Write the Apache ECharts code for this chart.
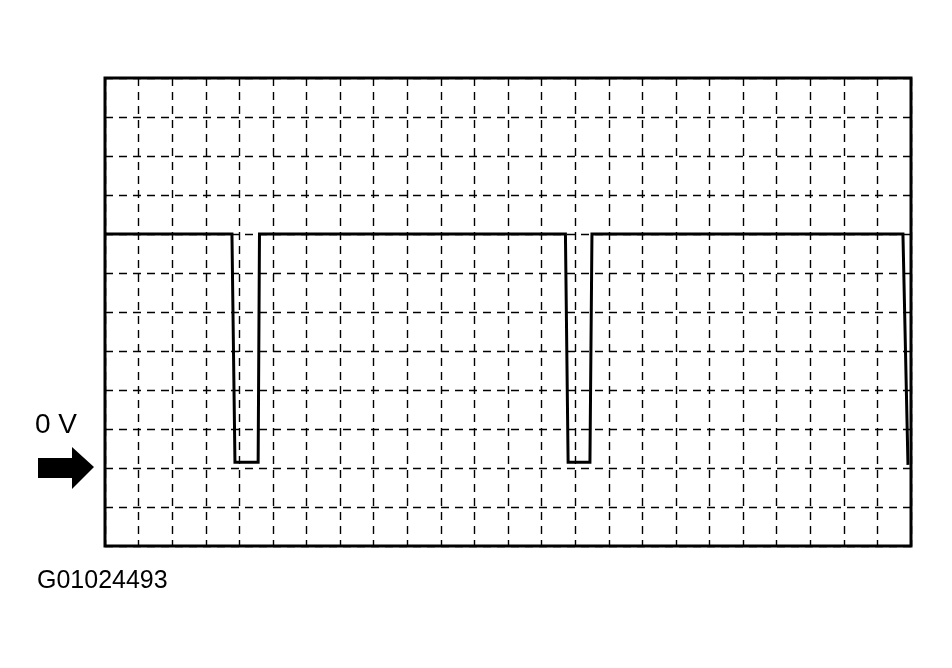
<!DOCTYPE html>
<html>
<head>
<meta charset="utf-8">
<script src="https://cdn.jsdelivr.net/npm/echarts@6/dist/echarts.min.js"></script>
<style>
html,body{margin:0;padding:0;background:#fff;}
#chart{width:952px;height:668px;}
</style>
</head>
<body>
<div id="chart"></div>
<script>
// Time in grid divisions (24 across), voltage in grid divisions (0 V marked)
const timeDiv = [0, 3.78, 3.87, 4.56, 4.60, 13.71, 13.79, 14.44, 14.50, 23.76, 23.91];
const voltDiv = [6, 6, 0.15, 0.15, 6, 6, 0.15, 0.15, 6, 6, 0.08];
const zeroLabel = '0 V';
const figureId = 'G01024493';

const chart = echarts.init(document.getElementById('chart'), null, {renderer: 'canvas'});
const trace = timeDiv.map((t, i) => [t, voltDiv[i]]);

const dashed = {show: true, lineStyle: {color: '#000', width: 1.4, type: [8, 6]}};

chart.setOption({
  animation: false,
  backgroundColor: '#fff',
  grid: {left: 105, top: 78, width: 806, height: 468, show: true,
         borderColor: '#000', borderWidth: 3, backgroundColor: 'transparent'},
  xAxis: {type: 'value', min: 0, max: 24, interval: 1,
          axisLine: {show: false}, axisTick: {show: false}, axisLabel: {show: false},
          splitLine: dashed},
  yAxis: {type: 'value', min: -2, max: 10, interval: 1,
          axisLine: {show: false}, axisTick: {show: false}, axisLabel: {show: false},
          splitLine: dashed},
  series: [{
    type: 'line', data: trace, symbol: 'none', z: 5,
    lineStyle: {color: '#000', width: 3, join: 'miter'}
  }]
});

const y0 = chart.convertToPixel({gridIndex: 0}, [0, 0])[1];
chart.setOption({
  graphic: [
    {type: 'polygon', shape: {points: [
      [38, y0 - 10], [72, y0 - 10], [72, y0 - 21], [94, y0 - 1],
      [72, y0 + 21], [72, y0 + 10], [38, y0 + 10]]},
      style: {fill: '#000'}},
    {type: 'text', left: 35, top: y0 - 57,
      style: {text: zeroLabel, font: '28px "Liberation Sans", Arial, sans-serif', fill: '#000'}},
    {type: 'text', left: 37, top: 569,
      style: {text: figureId, font: '25px "Liberation Sans", Arial, sans-serif', fill: '#000'}}
  ]
});
</script>
</body>
</html>
